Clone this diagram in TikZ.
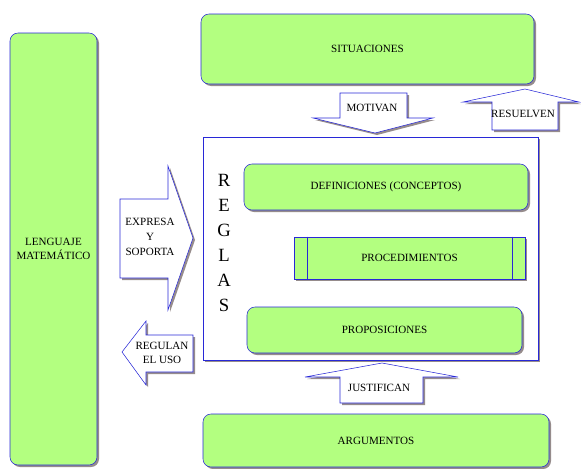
\documentclass[tikz,border=0pt]{standalone}
\usepackage{fontspec}
\setmainfont{Liberation Serif}
\usetikzlibrary{shadows}
\definecolor{caja}{RGB}{179,255,128}
\definecolor{borde}{RGB}{40,40,215}
\definecolor{sombra}{RGB}{150,140,140}
\def\px{0.75pt}

\begin{document}
\begin{tikzpicture}[x=0.75pt, y=-0.75pt,
    sombreado/.style={drop shadow={shadow xshift=1.5pt, shadow yshift=-1.5pt, fill=sombra, opacity=1}},
    bloque/.style={rectangle, rounded corners=6pt, draw=borde, fill=caja, sombreado, inner sep=0pt, align=center, font=\fontsize{8.3}{11}\selectfont},
    flecha/.style={draw=borde, fill=white, sombreado, line join=miter},
    rotulo/.style={align=center, inner sep=0pt, font=\fontsize{8.3}{11}\selectfont}]

    \useasboundingbox (0,0) rectangle (581,468);

    % cajas principales
    \node[bloque, minimum width=87*\px, minimum height=432*\px] (lenguaje) at (53.5,249) {LENGUAJE\\MATEMÁTICO};
    \node[bloque, minimum width=333*\px, minimum height=70*\px] (situaciones) at (367.5,49) {SITUACIONES};
    \node[bloque, minimum width=346*\px, minimum height=53*\px] (argumentos) at (376,440.5) {ARGUMENTOS};

    % marco de las reglas
    \node[rectangle, draw=borde, fill=white, sombreado, minimum width=335*\px, minimum height=223*\px] (reglas) at (370.5,248.5) {};
    \node[align=center, inner sep=0pt, font=\fontsize{14}{18.75}\selectfont] (letras) at (224,243) {R\\E\\G\\L\\A\\S};

    \node[bloque, minimum width=284*\px, minimum height=46*\px] (definiciones) at (386,187) {DEFINICIONES (CONCEPTOS)};
    \node[bloque, rounded corners=0pt, minimum width=231*\px, minimum height=42*\px] (procedimientos) at (409.5,258) {PROCEDIMIENTOS};
    \draw[borde] ([xshift=14*\px]procedimientos.north west) -- ([xshift=14*\px]procedimientos.south west);
    \draw[borde] ([xshift=-13*\px]procedimientos.north east) -- ([xshift=-13*\px]procedimientos.south east);
    \node[bloque, minimum width=275*\px, minimum height=46*\px] (proposiciones) at (384.5,330) {PROPOSICIONES};

    % flechas
    \path[flecha] (340,93) -- (407,93) -- (407,118) -- (433,118) -- (375,133) -- (313,118) -- (340,118) -- cycle;
    \node[rotulo] (motivan) at (372,108) {MOTIVAN};

    \path[flecha] (525,89) -- (579,102) -- (558,102) -- (558,130) -- (492,130) -- (492,102) -- (463,102) -- cycle;
    \node[rotulo] (resuelven) at (523,114) {RESUELVEN};

    \path[flecha] (382,363) -- (458,377) -- (423,377) -- (423,403) -- (340,403) -- (340,377) -- (305,377) -- cycle;
    \node[rotulo] (justifican) at (379,388) {JUSTIFICAN};

    \path[flecha] (120,199) -- (168,199) -- (168,166) -- (193,238) -- (168,310) -- (168,278) -- (120,278) -- cycle;
    \node[rotulo, font=\fontsize{8.3}{11.25}\selectfont] (expresa) at (150,237) {EXPRESA\\Y\\SOPORTA};

    \path[flecha] (122,352) -- (146,321) -- (146,335) -- (193,335) -- (193,372) -- (146,372) -- (146,385) -- cycle;
    \node[rotulo] (regulan) at (162,353) {REGULAN\\EL USO};

\end{tikzpicture}
\end{document}
